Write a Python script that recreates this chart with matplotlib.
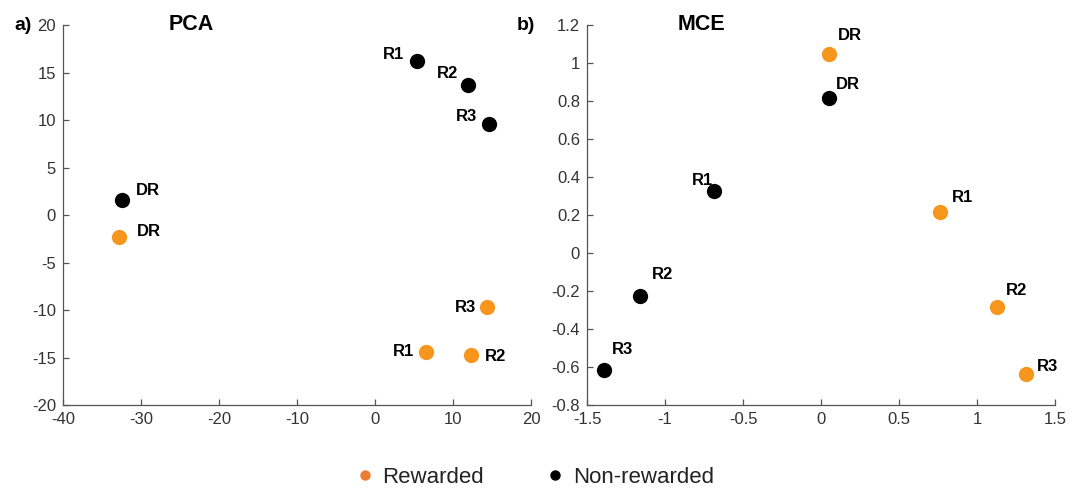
import numpy as np
import matplotlib.pyplot as plt
from matplotlib.lines import Line2D
from matplotlib.ticker import FormatStrFormatter

plt.rcParams['font.family'] = ['Liberation Sans', 'DejaVu Sans']
plt.rcParams['axes.unicode_minus'] = False

# point names, same order in every series
names = ['DR', 'R1', 'R2', 'R3']

# PCA panel
pca_rew_x = [-32.8, 6.5, 12.3, 14.4]
pca_rew_y = [-2.3, -14.4, -14.7, -9.7]
pca_non_x = [-32.4, 5.4, 11.9, 14.6]
pca_non_y = [1.6, 16.2, 13.7, 9.6]

# MCE panel
mce_rew_x = [0.05, 0.765, 1.13, 1.315]
mce_rew_y = [1.045, 0.216, -0.283, -0.636]
mce_non_x = [0.05, -0.685, -1.16, -1.39]
mce_non_y = [0.818, 0.326, -0.225, -0.617]

orange = '#F7961C'
legend_orange = '#ED7D31'
axcol = '#555555'

# label offsets in pixels (dx, dy) and horizontal alignment
pca_rew_off = [(18, 5, 'left'), (-12, 0, 'right'), (14, -2, 'left'), (-11, 0, 'right')]
pca_non_off = [(14, 9, 'left'), (-13, 7, 'right'), (-10, 11, 'right'), (-12, 7, 'right')]
mce_rew_off = [(9, 19, 'left'), (12, 14, 'left'), (9, 16, 'left'), (11, 7, 'left')]
mce_non_off = [(7, 13, 'left'), (-22, 11, 'left'), (12, 21, 'left'), (8, 21, 'left')]

fig = plt.figure(figsize=(10.79, 4.9), dpi=100)
ax1 = fig.add_axes([63 / 1079, 1 - 405 / 490, 468 / 1079, 380 / 490])
ax2 = fig.add_axes([587 / 1079, 1 - 405 / 490, 468 / 1079, 380 / 490])


def draw(ax, rx, ry, nx, ny, roff, noff):
    ax.plot(rx, ry, 'o', color=orange, markersize=11, markeredgewidth=0)
    ax.plot(nx, ny, 'o', color='black', markersize=11, markeredgewidth=0)
    for xs, ys, offs in [(rx, ry, roff), (nx, ny, noff)]:
        for name, x, y, (dx, dy, ha) in zip(names, xs, ys, offs):
            ax.annotate(name, (x, y), xytext=(dx, dy), textcoords='offset pixels',
                        ha=ha, va='center', fontsize=12, fontweight='bold')
    for s in ['top', 'right']:
        ax.spines[s].set_visible(False)
    for s in ['left', 'bottom']:
        ax.spines[s].set_color(axcol)
        ax.spines[s].set_linewidth(0.9)
    ax.tick_params(direction='in', length=4, width=0.9, color=axcol,
                   labelcolor='#333333', labelsize=12, pad=5)


draw(ax1, pca_rew_x, pca_rew_y, pca_non_x, pca_non_y, pca_rew_off, pca_non_off)
ax1.set_xlim(-40, 20)
ax1.set_ylim(-20, 20)
ax1.set_xticks(np.arange(-40, 21, 10))
ax1.set_yticks(np.arange(-20, 21, 5))

draw(ax2, mce_rew_x, mce_rew_y, mce_non_x, mce_non_y, mce_rew_off, mce_non_off)
ax2.set_xlim(-1.5, 1.5)
ax2.set_ylim(-0.8, 1.2)
ax2.set_xticks(np.round(np.arange(-1.5, 1.51, 0.5), 2) + 0.0)
ax2.set_yticks(np.round(np.arange(-0.8, 1.21, 0.2), 2) + 0.0)
ax2.xaxis.set_major_formatter(FormatStrFormatter('%g'))
ax2.yaxis.set_major_formatter(FormatStrFormatter('%g'))

ax1.text(0.274, 0.987, 'PCA', transform=ax1.transAxes, ha='center', va='baseline',
         fontsize=15.5, fontweight='bold')
ax2.text(0.245, 0.987, 'MCE', transform=ax2.transAxes, ha='center', va='baseline',
         fontsize=15.5, fontweight='bold')
fig.text(14 / 1079, 1 - 30 / 490, 'a)', ha='left', va='baseline', fontsize=14, fontweight='bold')
fig.text(517 / 1079, 1 - 30 / 490, 'b)', ha='left', va='baseline', fontsize=14, fontweight='bold')

handles = [Line2D([], [], ls='none', marker='o', color=legend_orange, markersize=7.5, markeredgewidth=0),
           Line2D([], [], ls='none', marker='o', color='black', markersize=7.5, markeredgewidth=0)]
fig.legend(handles, ['Rewarded', 'Non-rewarded'], loc='center', bbox_to_anchor=(0.4967, 0.025),
           ncol=2, frameon=False, fontsize=16, handlelength=0.6, handletextpad=0.5,
           columnspacing=2.9, labelcolor='#222222')

fig.savefig('out.png', dpi=100)
